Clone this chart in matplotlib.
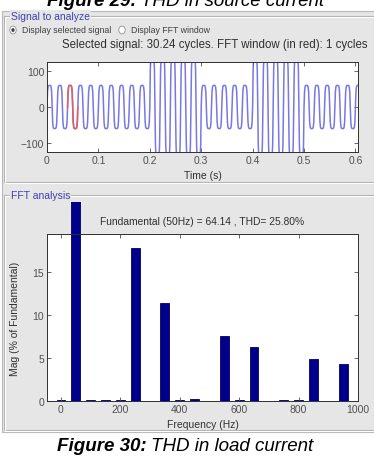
import numpy as np
import matplotlib
matplotlib.use("Agg")
import matplotlib.pyplot as plt
from matplotlib.patches import Rectangle, Circle
from matplotlib.transforms import Bbox, TransformedBbox

# ---------------- data ----------------
# one 50 Hz cycle of the load current, normalised
cycle_shape = [0.0, 0.7, 0.93, 0.99, 1.0, 1.0, 1.0, 0.99, 0.93, 0.7,
               0.0, -0.7, -0.93, -0.99, -1.0, -1.0, -1.0, -0.99, -0.93, -0.7]
seg_start = [0.0, 0.2, 0.3, 0.4, 0.5]
seg_end = [0.2, 0.3, 0.4, 0.5, 0.6048]
seg_amp = [60, 150, 60, 150, 60]
f0 = 50.0
fft_window = [0.04, 0.06]

freqs = [0, 50, 100, 150, 200, 250, 300, 350, 400, 450, 500,
         550, 600, 650, 700, 750, 800, 850, 900, 950]
mags = [0.1, 100, 0.1, 0.15, 0.1, 17.8, 0.05, 11.4, 0.1, 0.2, 0.05,
        7.5, 0.15, 6.3, 0.05, 0.15, 0.1, 4.9, 0.05, 4.3]

title_fft = "Fundamental (50Hz) = 64.14 , THD= 25.80%"
title_sig = "Selected signal: 30.24 cycles. FFT window (in red): 1 cycles"

# ---------------- figure ----------------
W, H = 374, 460
fig = plt.figure(figsize=(W / 100, H / 100), dpi=100)
fig.patch.set_facecolor("white")
plt.rcParams["font.family"] = ["Liberation Sans", "DejaVu Sans"]

def fx(x):
    return x / W

def fy(y):
    return 1 - y / H

gray = "#e6e6e6"
txtc = "#404040"
# GUI background
fig.add_artist(Rectangle((fx(2), fy(433)), fx(372), (433 - 12) / H,
                         transform=fig.transFigure, facecolor=gray,
                         edgecolor="#b8b8b8", lw=0.8, zorder=0))

# panel frames (etched)
def panel(ytop, ybot, label):
    for off, col in ((0, "#b0b0b0"), (1, "white")):
        fig.add_artist(plt.Line2D([fx(4 + off), fx(374)], [fy(ytop + off)] * 2,
                                  transform=fig.transFigure, color=col, lw=0.8, zorder=1))
        fig.add_artist(plt.Line2D([fx(4 + off)] * 2, [fy(ytop + off), fy(ybot + off)],
                                  transform=fig.transFigure, color=col, lw=0.8, zorder=1))
        fig.add_artist(plt.Line2D([fx(4 + off), fx(374)], [fy(ybot + off)] * 2,
                                  transform=fig.transFigure, color=col, lw=0.8, zorder=1))
    fig.text(fx(11), fy(ytop), label, fontsize=7.5, color="#4040b0",
             va="center", ha="left", zorder=3,
             bbox=dict(facecolor=gray, edgecolor="none", pad=0.5))

panel(17, 183, "Signal to analyze")
panel(196, 431, "FFT analysis")

# radio buttons
for cx, txt, sel in ((13, "Display selected signal", True), (122, "Display FFT window", False)):
    fig.add_artist(Circle((fx(cx), fy(31)), 3.2 / W, transform=fig.transFigure,
                          facecolor="white", edgecolor="#909090", lw=0.6, zorder=3))
    if sel:
        fig.add_artist(Circle((fx(cx), fy(31)), 1.6 / W, transform=fig.transFigure,
                              facecolor="#404040", edgecolor="none", zorder=4))
    fig.text(fx(cx + 9), fy(31), txt, fontsize=6.3, color=txtc,
             va="center", ha="left")

fig.text(fx(215), fy(45), title_sig, fontsize=8.3, color="#303030",
         ha="center", va="center")

# ---------------- signal axes ----------------
ax1 = fig.add_axes([fx(47), fy(153), (358 - 47) / W, (153 - 63) / H])
n_per = len(cycle_shape)
t_all, y_all = [], []
for s, e, a in zip(seg_start, seg_end, seg_amp):
    n = int(round((e - s) * f0 * n_per))
    idx = np.arange(n)
    t = s + idx / (f0 * n_per)
    y = a * np.array(cycle_shape)[idx % n_per]
    t_all.append(t)
    y_all.append(y)
t_all = np.concatenate(t_all)
y_all = np.concatenate(y_all)
ax1.plot(t_all, y_all, color="#6060e0", lw=1.1, alpha=0.85)
m = (t_all >= fft_window[0]) & (t_all <= fft_window[1])
ax1.plot(t_all[m], y_all[m], color="#e06060", lw=1.1)
ax1.set_xlim(0, 0.605)
ax1.set_ylim(-125, 125)
ax1.set_xticks([0, 0.1, 0.2, 0.3, 0.4, 0.5, 0.6])
ax1.set_xticklabels(["0", "0.1", "0.2", "0.3", "0.4", "0.5", "0.6"])
ax1.set_yticks([-100, 0, 100])
ax1.set_xlabel("Time (s)", fontsize=7.5, labelpad=4, color="#303030")

# ---------------- FFT axes ----------------
ax2 = fig.add_axes([fx(47), fy(402), (358 - 47) / W, (402 - 235) / H])
bars = ax2.bar(freqs, mags, width=30, color="#00008c", edgecolor="#00005a", lw=0.6)
clip = TransformedBbox(Bbox([[fx(47), fy(402)], [fx(358), fy(203)]]), fig.transFigure)
for b in bars:
    b.set_clip_box(clip)
ax2.set_xlim(-47, 1000)
ax2.set_ylim(0, 19.4)
ax2.set_xticks([0, 200, 400, 600, 800, 1000])
ax2.set_yticks([0, 5, 10, 15])
ax2.set_xlabel("Frequency (Hz)", fontsize=7.5, labelpad=4, color="#303030")
ax2.set_ylabel("Mag (% of Fundamental)", fontsize=7.5, labelpad=9, color="#303030")
fig.text(fx(202), fy(222), title_fft, fontsize=7.4, color="#303030",
         ha="center", va="center")

for ax in (ax1, ax2):
    ax.set_facecolor("white")
    ax.tick_params(direction="in", length=3, width=0.6, labelsize=7.5,
                   colors="#505050", top=True, right=True, pad=2)
    for sp in ax.spines.values():
        sp.set_linewidth(0.7)
        sp.set_color("#303030")

# captions
fig.canvas.draw()

def caption(x0, ybase, bold, rest):
    t1 = fig.text(fx(x0), fy(ybase), bold, fontsize=13.5, style="italic",
                  weight="bold", ha="left", va="baseline")
    fig.canvas.draw()
    bb = t1.get_window_extent()
    fig.text(bb.x1 / (fig.dpi * fig.get_figwidth()) + fx(4), fy(ybase), rest,
             fontsize=13.5, style="italic", ha="left", va="baseline")

caption(47, 6, "Figure 29:", "THD in source current")
caption(57, 451, "Figure 30:", "THD in load current")

fig.savefig("out.png", dpi=100)
